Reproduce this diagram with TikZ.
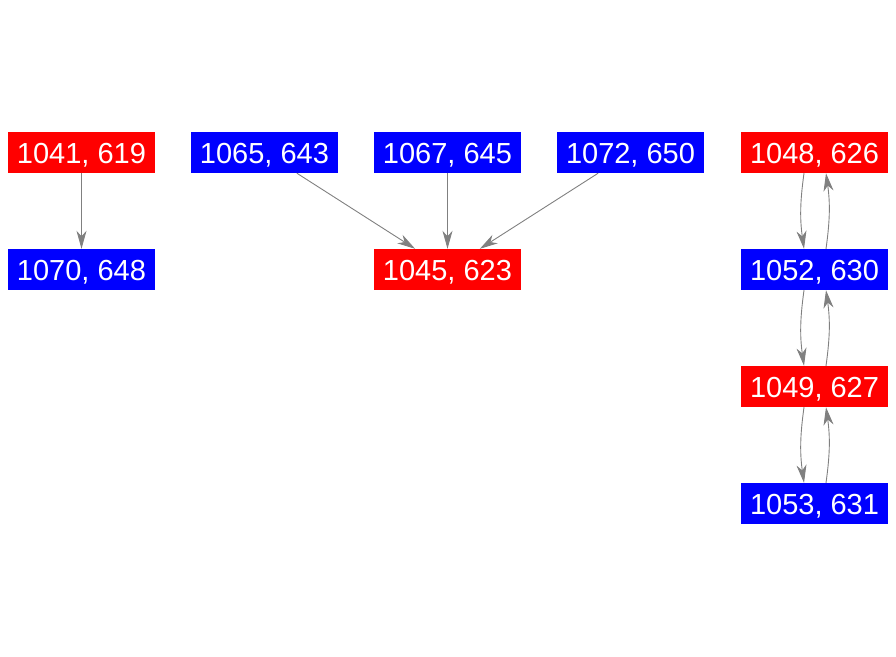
\documentclass[tikz,border=0pt]{standalone}
\usepackage{fontspec}
\setmainfont{Liberation Sans}
\usetikzlibrary{arrows.meta}
\definecolor{nred}{RGB}{255,0,0}
\definecolor{nblue}{RGB}{0,0,255}
\definecolor{egray}{RGB}{128,128,128}
\tikzset{
  nbox/.style={minimum width=147pt, minimum height=41pt, inner sep=0pt, text=white,
    font=\fontsize{29}{29}\selectfont, text height=21pt, text depth=0pt},
  rbox/.style={nbox, fill=nred},
  bbox/.style={nbox, fill=nblue},
  conn/.style={draw=egray, line width=0.9pt, -{Stealth[length=18pt, width=10pt, inset=5.5pt]}},
}
\begin{document}
\begin{tikzpicture}[x=1pt,y=1pt]
\useasboundingbox (0,0) rectangle (896,-656);
\node[rbox] (a1041) at (81.5,-152.5) {1041, 619};
\node[bbox] (a1065) at (264.5,-152.5) {1065, 643};
\node[bbox] (a1067) at (447.5,-152.5) {1067, 645};
\node[bbox] (a1072) at (630.5,-152.5) {1072, 650};
\node[rbox] (a1048) at (814.5,-152.5) {1048, 626};
\node[bbox] (a1070) at (81.5,-269.5) {1070, 648};
\node[rbox] (a1045) at (447.5,-269.5) {1045, 623};
\node[bbox] (a1052) at (814.5,-269.5) {1052, 630};
\node[rbox] (a1049) at (814.5,-386.5) {1049, 627};
\node[bbox] (a1053) at (814.5,-503.5) {1053, 631};
\draw[conn] (a1041) -- (a1070);
\draw[conn] (a1065) -- (a1045);
\draw[conn] (a1067) -- (a1045);
\draw[conn] (a1072) -- (a1045);
\draw[conn] ([xshift=-10.5pt]a1048.south) to[bend right=8] ([xshift=-10.5pt]a1052.north);
\draw[conn] ([xshift=11.5pt]a1052.north) to[bend right=8] ([xshift=11.5pt]a1048.south);
\draw[conn] ([xshift=-10.5pt]a1052.south) to[bend right=8] ([xshift=-10.5pt]a1049.north);
\draw[conn] ([xshift=11.5pt]a1049.north) to[bend right=8] ([xshift=11.5pt]a1052.south);
\draw[conn] ([xshift=-10.5pt]a1049.south) to[bend right=8] ([xshift=-10.5pt]a1053.north);
\draw[conn] ([xshift=11.5pt]a1053.north) to[bend right=8] ([xshift=11.5pt]a1049.south);
\end{tikzpicture}
\end{document}
